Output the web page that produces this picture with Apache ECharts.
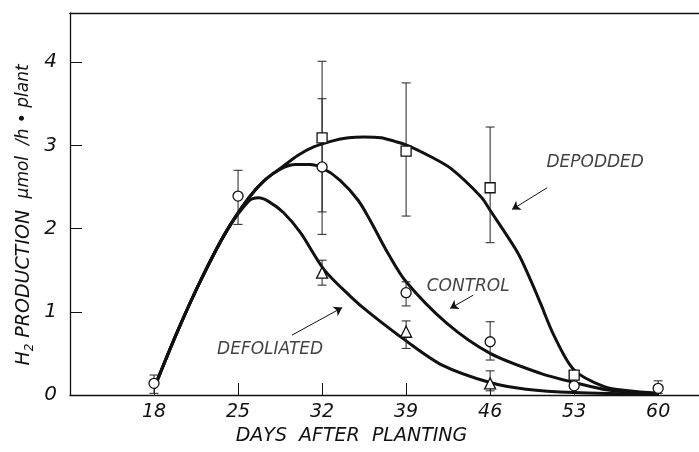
<!DOCTYPE html>
<html><head><meta charset="utf-8">
<script src="https://cdn.jsdelivr.net/npm/echarts@6/dist/echarts.min.js"></script>
<style>html,body{margin:0;padding:0;background:#fff}#c{width:699px;height:452px}</style>
</head><body><div id="c"></div>
<script>
// ---- tick labels ----
const xTicks = [18, 25, 32, 39, 46, 53, 60];
const yTicks = [0, 1, 2, 3, 4];

// ---- measured points (mean, lower and upper error) ----
const controlDays = [18, 25, 32, 39, 46, 53, 60];
const controlMean = [0.14, 2.39, 2.74, 1.23, 0.64, 0.11, 0.08];
const controlLow  = [0.02, 2.05, 1.93, 1.07, 0.42, null, 0.02];
const controlHigh = [0.24, 2.70, 3.56, 1.36, 0.88, null, 0.17];

const depoddedDays = [32, 39, 46, 53];
const depoddedMean = [3.09, 2.93, 2.49, 0.24];
const depoddedLow  = [2.20, 2.15, 1.83, null];
const depoddedHigh = [4.01, 3.75, 3.22, null];

const defoliatedDays = [32, 39, 46];
const defoliatedMean = [1.47, 0.76, 0.14];
const defoliatedLow  = [1.32, 0.56, 0.05];
const defoliatedHigh = [1.62, 0.89, 0.29];

// ---- fitted curves ----
const controlCurveX = [18, 20, 22, 24, 25.9, 27.2, 28.6, 29.8, 31, 32, 33.5, 35, 36, 37.5, 39, 42.4, 46, 50.2, 53, 55.8, 60];
const controlCurveY = [0.08, 0.78, 1.41, 1.96, 2.37, 2.58, 2.72, 2.77, 2.77, 2.73, 2.58, 2.34, 2.10, 1.70, 1.36, 0.86, 0.50, 0.26, 0.15, 0.06, 0.01];

const depoddedCurveX = [18, 20, 22, 24, 25.9, 27.2, 28.6, 30, 31.3, 32.8, 34.2, 35.5, 36.9, 38, 39.1, 41.1, 42.75, 45.25, 46, 48.3, 49.4, 50.2, 51.3, 53, 55.5, 57.5, 60];
const depoddedCurveY = [0.08, 0.78, 1.41, 1.96, 2.37, 2.58, 2.73, 2.88, 2.98, 3.05, 3.09, 3.10, 3.09, 3.05, 3.00, 2.86, 2.72, 2.38, 2.22, 1.71, 1.37, 1.10, 0.72, 0.30, 0.10, 0.05, 0.02];

const defoliatedCurveX = [18, 20, 22, 24, 25.9, 26.7, 27.5, 28.8, 30.2, 32.2, 34.4, 36, 39, 42, 46, 49, 53, 60];
const defoliatedCurveY = [0.08, 0.78, 1.41, 1.96, 2.33, 2.37, 2.33, 2.19, 1.95, 1.50, 1.18, 0.98, 0.65, 0.36, 0.15, 0.07, 0.03, 0.01];

// ---- annotations ----
const annoText = ['DEPODDED', 'CONTROL', 'DEFOLIATED'];
const annoX = [54.75, 44.17, 27.67];
const annoY = [2.79, 1.30, 0.54];
const arrowFromX = [50.75, 44.6, 29.5];
const arrowFromY = [2.49, 1.20, 0.72];
const arrowToX = [47.83, 42.67, 33.67];
const arrowToY = [2.23, 1.04, 1.05];

const INK = '#111';
const FONT = '"DejaVu Sans", sans-serif';

function pairs(xs, ys) { return xs.map((x, i) => [x, ys[i]]); }
function errData(xs, lo, hi) {
  const out = [];
  xs.forEach((x, i) => { if (lo[i] != null && hi[i] != null) out.push([x, lo[i], hi[i]]); });
  return out;
}
function errItem(params, api) {
  const x = api.value(0);
  const pLo = api.coord([x, api.value(1)]);
  const pHi = api.coord([x, api.value(2)]);
  const w = 4.5;
  const st = { stroke: '#222', lineWidth: 1 };
  return {
    type: 'group', children: [
      { type: 'line', shape: { x1: pLo[0], y1: pLo[1], x2: pHi[0], y2: pHi[1] }, style: st },
      { type: 'line', shape: { x1: pLo[0] - w, y1: pLo[1], x2: pLo[0] + w, y2: pLo[1] }, style: st },
      { type: 'line', shape: { x1: pHi[0] - w, y1: pHi[1], x2: pHi[0] + w, y2: pHi[1] }, style: st }
    ]
  };
}
function curve(name, xs, ys) {
  return {
    name, type: 'line', data: pairs(xs, ys), smooth: 0.3,
    showSymbol: false, silent: true, z: 2,
    lineStyle: { color: INK, width: 3 }
  };
}
function markers(name, xs, ys, symbol, size) {
  return {
    name, type: 'scatter', data: pairs(xs, ys), symbol, symbolSize: size, z: 5,
    itemStyle: { color: '#fff', borderColor: INK, borderWidth: 1.3, opacity: 1 }
  };
}

const chart = echarts.init(document.getElementById('c'), null, { renderer: 'canvas' });
chart.setOption({
  animation: false,
  backgroundColor: '#fff',
  grid: { left: 70, right: 0, top: 13, bottom: 57, containLabel: false },
  xAxis: [{
    type: 'value', min: 11, max: 63.4, position: 'bottom',
    axisLine: { lineStyle: { color: INK, width: 1.3 } },
    axisTick: { inside: true, length: 12, customValues: xTicks, lineStyle: { color: INK, width: 1 } },
    axisLabel: { customValues: xTicks, color: INK, fontSize: 19, fontStyle: 'italic', fontWeight: 200, fontFamily: FONT, margin: 8 },
    splitLine: { show: false },
    name: 'DAYS  AFTER  PLANTING', nameLocation: 'middle', nameGap: 32,
    nameTextStyle: { color: INK, fontSize: 19, fontStyle: 'italic', fontWeight: 200, fontFamily: FONT, padding: [0, 66, 0, 0] }
  }, {
    type: 'value', min: 11, max: 63.4, position: 'top',
    axisLine: { show: true, lineStyle: { color: INK, width: 1.3 } },
    axisTick: { show: false }, axisLabel: { show: false }, splitLine: { show: false }
  }],
  yAxis: {
    type: 'value', min: 0, max: 4.59,
    axisLine: { show: true, lineStyle: { color: INK, width: 1.3 } },
    axisTick: { show: true, inside: true, length: 12, customValues: yTicks, lineStyle: { color: INK, width: 1 } },
    axisLabel: { customValues: yTicks, color: INK, fontSize: 20, fontStyle: 'italic', fontWeight: 200, fontFamily: FONT, margin: 13 },
    splitLine: { show: false },
    name: '{a|H}{s|2}{a| PRODUCTION}   {b|μmol  /h • plant}',
    nameLocation: 'middle', nameGap: 34, nameRotate: 90, nameMoveOverlap: false,
    nameTextStyle: {
      color: INK, fontFamily: FONT, fontStyle: 'italic', fontWeight: 200, padding: [0, 22, 0, 0],
      rich: {
        a: { fontSize: 19, fontStyle: 'italic', fontWeight: 200, fontFamily: FONT, color: INK, lineHeight: 24, verticalAlign: 'middle' },
        s: { fontSize: 12, fontStyle: 'italic', fontWeight: 200, fontFamily: FONT, color: INK, lineHeight: 24, verticalAlign: 'bottom' },
        b: { fontSize: 17, fontStyle: 'italic', fontWeight: 200, fontFamily: FONT, color: INK, lineHeight: 24, verticalAlign: 'middle' }
      }
    }
  },
  series: [
    curve('Depodded fit', depoddedCurveX, depoddedCurveY),
    curve('Control fit', controlCurveX, controlCurveY),
    curve('Defoliated fit', defoliatedCurveX, defoliatedCurveY),
    { name: 'Control error', type: 'custom', renderItem: errItem, data: errData(controlDays, controlLow, controlHigh), z: 3, silent: true },
    { name: 'Depodded error', type: 'custom', renderItem: errItem, data: errData(depoddedDays, depoddedLow, depoddedHigh), z: 3, silent: true },
    { name: 'Defoliated error', type: 'custom', renderItem: errItem, data: errData(defoliatedDays, defoliatedLow, defoliatedHigh), z: 3, silent: true },
    markers('Control', controlDays, controlMean, 'circle', 10),
    markers('Depodded', depoddedDays, depoddedMean, 'rect', 10),
    markers('Defoliated', defoliatedDays, defoliatedMean, 'triangle', 11),
    {
      name: 'arrows', type: 'lines', coordinateSystem: 'cartesian2d', z: 4, silent: true,
      symbol: ['none', 'arrow'], symbolSize: 8,
      lineStyle: { color: INK, width: 1, opacity: 1 },
      data: arrowFromX.map((x, i) => ({ coords: [[x, arrowFromY[i]], [arrowToX[i], arrowToY[i]]] }))
    },
    {
      name: 'labels', type: 'scatter', symbolSize: 0, z: 6, silent: true,
      data: annoX.map((x, i) => ({ value: [x, annoY[i]], name: annoText[i] })),
      label: { show: true, position: 'inside', formatter: p => p.name, color: INK, fontSize: 17, fontStyle: 'italic', fontWeight: 200, fontFamily: FONT }
    }
  ]
});
</script>
</body></html>
